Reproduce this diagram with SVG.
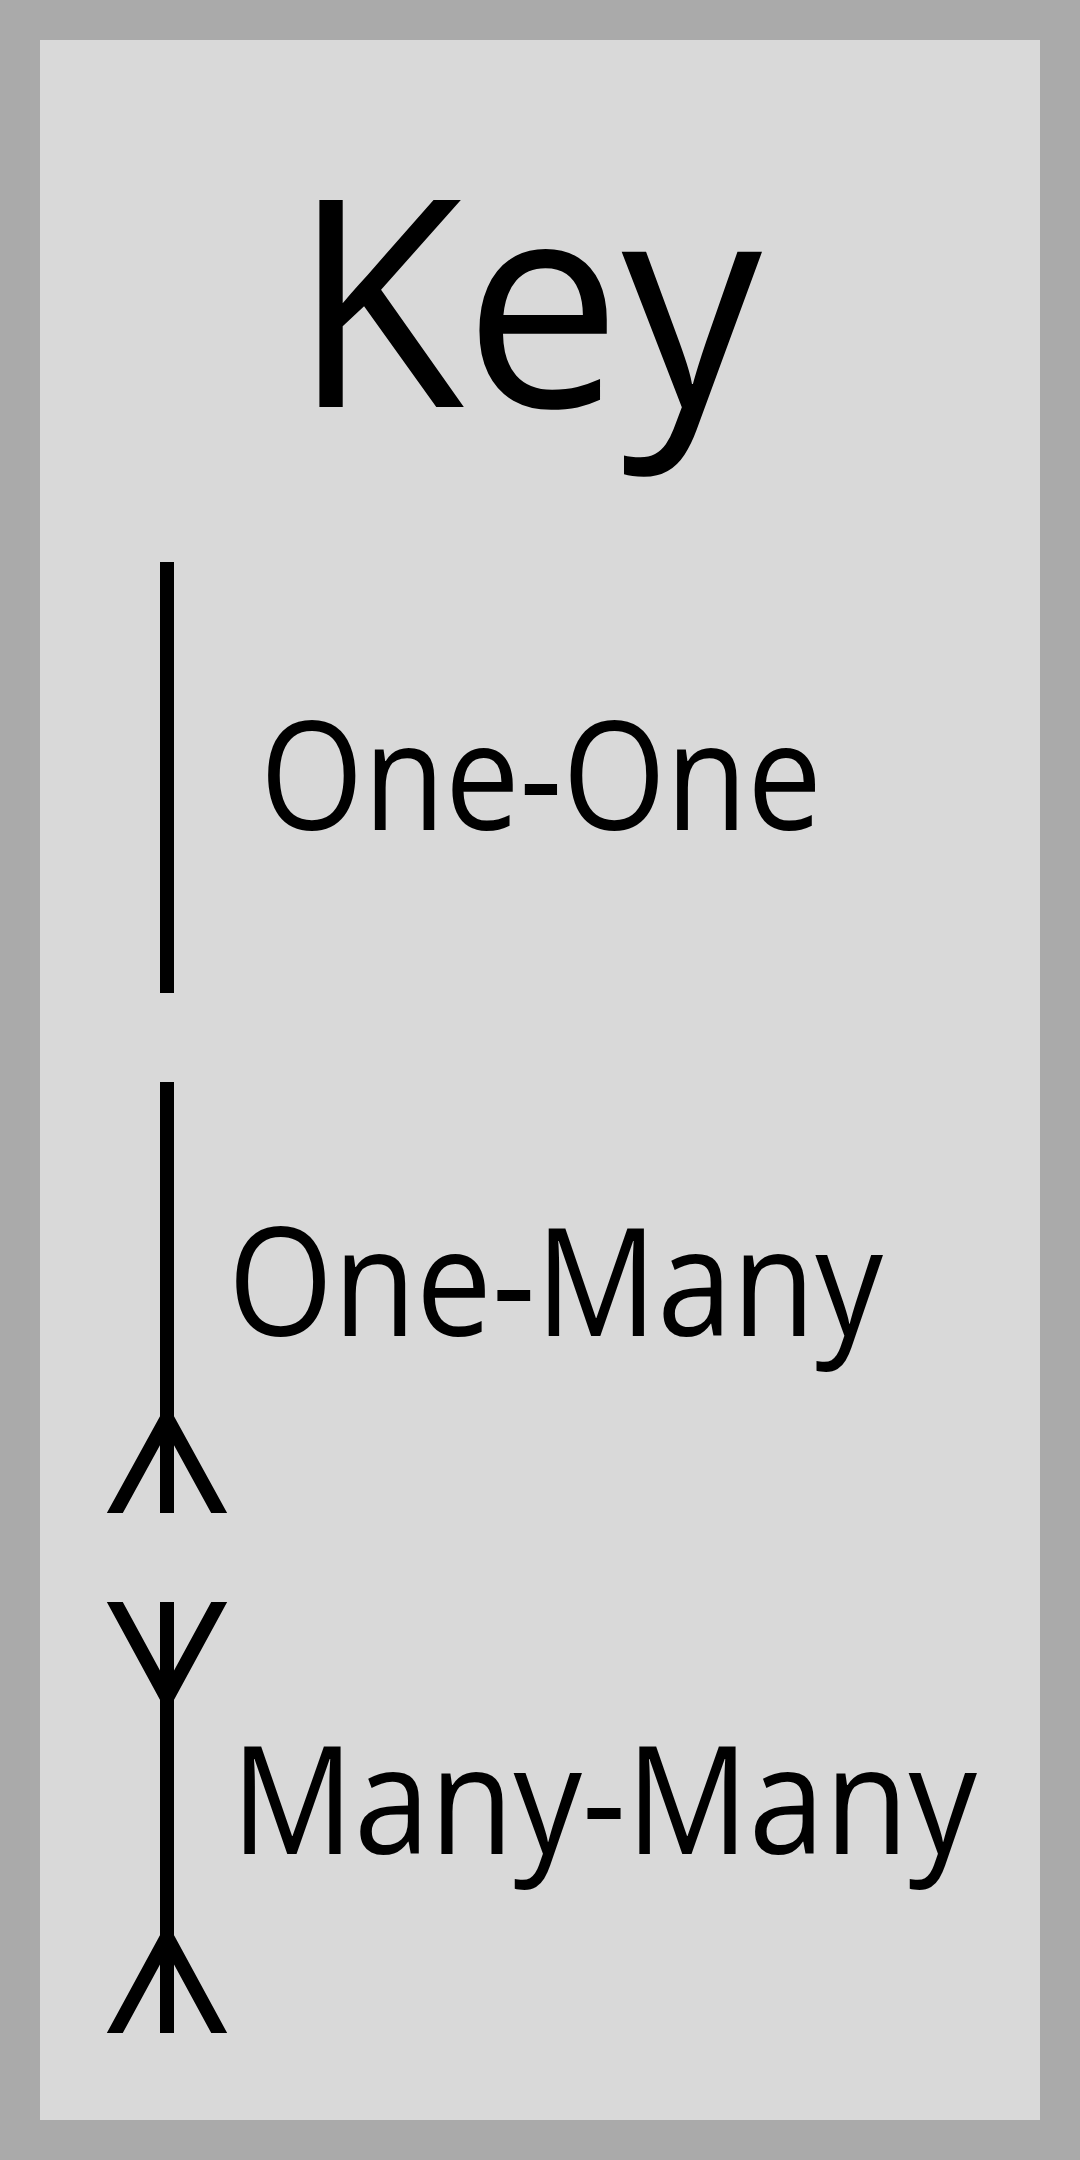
<svg xmlns="http://www.w3.org/2000/svg" width="1080" height="2160" viewBox="0 0 1080 2160">
<defs>
<style>
.lbl{font-family:"Open Sans","Noto Sans","Liberation Sans",sans-serif;fill:#000}
.ln{stroke:#000;stroke-width:14;fill:none;stroke-linecap:butt}
</style>
<clipPath id="c1"><rect x="60" y="1060" width="200" height="453"/></clipPath>
<clipPath id="c2"><rect x="60" y="1602" width="200" height="431"/></clipPath>
</defs>
<rect x="0" y="0" width="1080" height="2160" fill="#aaaaaa"/>
<rect x="40" y="40" width="1000" height="2080" fill="#d9d9d9"/>
<g id="title"><text class="lbl" x="527" y="407" font-size="290" text-anchor="middle" textLength="470" lengthAdjust="spacingAndGlyphs">Key</text></g>
<g id="one-one"><text class="lbl" x="260" y="830" font-size="150" textLength="562" lengthAdjust="spacingAndGlyphs">One-One</text></g>
<g id="one-many"><text class="lbl" x="228" y="1336" font-size="150" textLength="655" lengthAdjust="spacingAndGlyphs">One-Many</text></g>
<g id="many-many"><text class="lbl" x="231" y="1854" font-size="150" textLength="746" lengthAdjust="spacingAndGlyphs">Many-Many</text></g>
<g id="connectors">
<line class="ln" x1="167" y1="562" x2="167" y2="993"/>
<g clip-path="url(#c1)">
<line class="ln" x1="167" y1="1082" x2="167" y2="1513"/>
<path class="ln" d="M111 1520 L167 1418 L223 1520"/>
</g>
<g clip-path="url(#c2)">
<line class="ln" x1="167" y1="1602" x2="167" y2="2033"/>
<path class="ln" d="M111 1595 L167 1698 L223 1595"/>
<path class="ln" d="M111 2040 L167 1937 L223 2040"/>
</g>
</g>
</svg>
